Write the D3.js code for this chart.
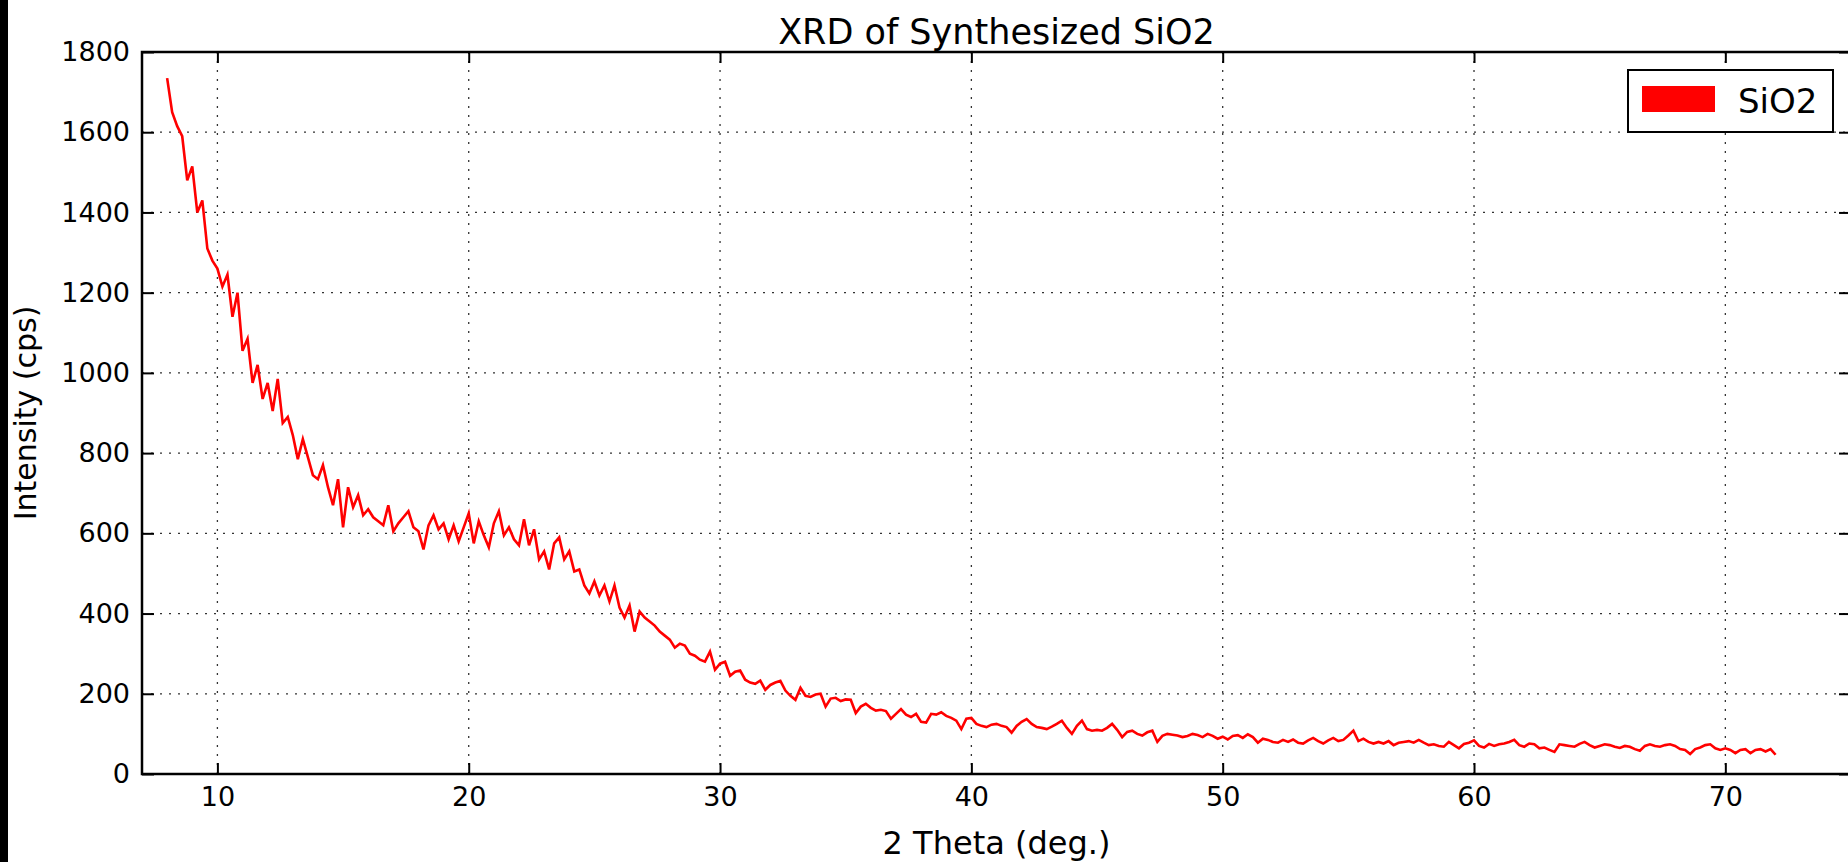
<!DOCTYPE html>
<html>
<head>
<meta charset="utf-8">
<script src="https://cdn.jsdelivr.net/npm/d3@7"></script>
<style>
  html, body { margin: 0; padding: 0; background: #fff; }
  svg { display: block; }
  text { font-family: "DejaVu Sans", sans-serif; fill: #000; }
</style>
</head>
<body>
<svg id="chart" width="1848" height="862"></svg>
<script>
// ---- data ----
const chartTitle = "XRD of Synthesized SiO2";
const xLabel = "2 Theta (deg.)";
const yLabel = "Intensity (cps)";
const seriesName = "SiO2";
const xDomain = [7, 75];
const yDomain = [0, 1800];
const xTicks = [10, 20, 30, 40, 50, 60, 70];
const yTicks = [0, 200, 400, 600, 800, 1000, 1200, 1400, 1600, 1800];
const thetaStart = 8.0;
const thetaStep = 0.2;
// intensity (cps) every 0.2 deg from 8.0 to 72.0 (one row per degree)
const intensity = [
  1735, 1650, 1615, 1590, 1480,   // 8
  1515, 1400, 1430, 1310, 1280,   // 9
  1260, 1215, 1245, 1140, 1200,   // 10
  1055, 1085, 975, 1020, 935,     // 11
  975, 905, 985, 875, 890,        // 12
  845, 785, 835, 790, 745,        // 13
  735, 770, 715, 670, 735,        // 14
  615, 715, 665, 695, 645,        // 15
  660, 640, 630, 620, 670,        // 16
  605, 625, 640, 655, 615,        // 17
  605, 560, 620, 645, 610,        // 18
  625, 585, 620, 580, 615,        // 19
  650, 575, 630, 595, 565,        // 20
  625, 655, 595, 615, 585,        // 21
  570, 635, 570, 610, 535,        // 22
  555, 510, 575, 590, 535,        // 23
  555, 505, 510, 470, 450,        // 24
  480, 445, 470, 430, 470,        // 25
  415, 390, 420, 355, 405,        // 26
  390, 380, 370, 355, 345,        // 27
  335, 315, 325, 320, 300,        // 28
  295, 285, 280, 305, 260,        // 29
  275, 280, 245, 255, 258,        // 30
  235, 228, 225, 233, 210,        // 31
  222, 228, 232, 208, 195,        // 32
  185, 215, 195, 192, 198,        // 33
  200, 168, 188, 190, 182,        // 34
  186, 185, 152, 168, 175,        // 35
  165, 158, 160, 157, 138,        // 36
  150, 162, 148, 142, 150,        // 37
  130, 128, 150, 148, 154,        // 38
  145, 140, 133, 112, 138,        // 39
  140, 125, 120, 117, 123,        // 40
  125, 120, 117, 103, 120,        // 41
  130, 137, 125, 117, 115,        // 42
  112, 118, 125, 133, 115,        // 43
  100, 120, 133, 112, 108,        // 44
  110, 108, 115, 125, 110,        // 45
  92, 105, 108, 100, 96,          // 46
  104, 108, 80, 95, 100,          // 47
  98, 96, 92, 95, 100,            // 48
  97, 92, 100, 95, 88,            // 49
  93, 86, 95, 97, 90,             // 50
  99, 92, 78, 88, 85,             // 51
  80, 78, 85, 80, 86,             // 52
  78, 76, 84, 90, 82,             // 53
  76, 84, 90, 82, 85,             // 54
  96, 108, 82, 88, 80,            // 55
  76, 80, 76, 82, 72,             // 56
  78, 80, 82, 78, 85,             // 57
  78, 72, 74, 70, 68,             // 58
  80, 72, 64, 75, 78,             // 59
  84, 70, 66, 75, 70,             // 60
  74, 76, 80, 85, 72,             // 61
  68, 76, 74, 64, 66,             // 62
  60, 55, 74, 72, 70,             // 63
  68, 75, 80, 72, 66,             // 64
  70, 74, 72, 68, 65,             // 65
  70, 68, 62, 58, 70,             // 66
  74, 70, 68, 72, 74,             // 67
  70, 62, 60, 50, 62,             // 68
  66, 72, 74, 64, 60,             // 69
  64, 60, 52, 60, 62,             // 70
  52, 60, 62, 56, 62,             // 71
  48                              // 72
];

// ---- layout ----
const svg = d3.select("#chart");
const L = 142, R = 1851, T = 52, B = 774;

const x = d3.scaleLinear().domain(xDomain).range([L, R]);
const y = d3.scaleLinear().domain(yDomain).range([B, T]);

// black strip on the left edge
svg.append("rect").attr("x", 0).attr("y", 0).attr("width", 8).attr("height", 862).attr("fill", "#000");

// grid
const grid = svg.append("g").attr("stroke", "#333").attr("stroke-width", 1.3)
  .attr("stroke-dasharray", "2,7");
grid.selectAll(".gx").data(xTicks).enter().append("line")
  .attr("x1", d => x(d)).attr("x2", d => x(d)).attr("y1", T).attr("y2", B);
grid.selectAll(".gy").data(yTicks.filter(d => d > yDomain[0] && d < yDomain[1])).enter().append("line")
  .attr("x1", L).attr("x2", R).attr("y1", d => y(d)).attr("y2", d => y(d));

// data line
const pts = intensity.map((v, i) => [thetaStart + i * thetaStep, v]);
const line = d3.line().x(d => x(d[0])).y(d => y(d[1]));
svg.append("path").datum(pts).attr("d", line)
  .attr("fill", "none").attr("stroke", "#ff0000").attr("stroke-width", 2.6)
  .attr("stroke-linejoin", "miter");

// axes (inward ticks on all sides)
const fs = "27px";
const axB = svg.append("g").attr("transform", `translate(0,${B})`)
  .call(d3.axisBottom(x).tickValues(xTicks).tickSize(-11).tickPadding(13).tickFormat(d3.format("d")));
const axT = svg.append("g").attr("transform", `translate(0,${T})`)
  .call(d3.axisTop(x).tickValues(xTicks).tickSize(-11).tickFormat(""));
const axL = svg.append("g").attr("transform", `translate(${L},0)`)
  .call(d3.axisLeft(y).tickValues(yTicks).tickSize(-12).tickPadding(12).tickFormat(d3.format("d")));
const axR = svg.append("g").attr("transform", `translate(${R},0)`)
  .call(d3.axisRight(y).tickValues(yTicks).tickSize(-12).tickFormat(""));
[axB, axT, axL, axR].forEach(g => {
  g.select(".domain").remove();
  g.selectAll(".tick line").attr("stroke", "#000").attr("stroke-width", 2);
  g.selectAll("text").style("font-size", fs).attr("fill", "#000")
    .style("font-family", "'DejaVu Sans', sans-serif");
});
axB.selectAll("text").attr("dy", "0.71em");

// frame
svg.append("rect").attr("x", L).attr("y", T).attr("width", R - L).attr("height", B - T)
  .attr("fill", "none").attr("stroke", "#000").attr("stroke-width", 2.5);

// title and labels
svg.append("text").attr("x", (L + R) / 2).attr("y", 44).attr("text-anchor", "middle")
  .style("font-size", "35px").text(chartTitle);
svg.append("text").attr("x", (L + R) / 2).attr("y", 854).attr("text-anchor", "middle")
  .style("font-size", "32px").text(xLabel);
svg.append("text").attr("transform", `translate(36,${(T + B) / 2}) rotate(-90)`)
  .attr("text-anchor", "middle").style("font-size", "30px").text(yLabel);

// legend
const lg = svg.append("g");
lg.append("rect").attr("x", 1628).attr("y", 70).attr("width", 205).attr("height", 62)
  .attr("fill", "#fff").attr("stroke", "#000").attr("stroke-width", 2);
lg.append("rect").attr("x", 1642).attr("y", 86).attr("width", 73).attr("height", 26)
  .attr("fill", "#ff0000");
lg.append("text").attr("x", 1738).attr("y", 113).style("font-size", "34px").text(seriesName);
</script>
</body>
</html>
